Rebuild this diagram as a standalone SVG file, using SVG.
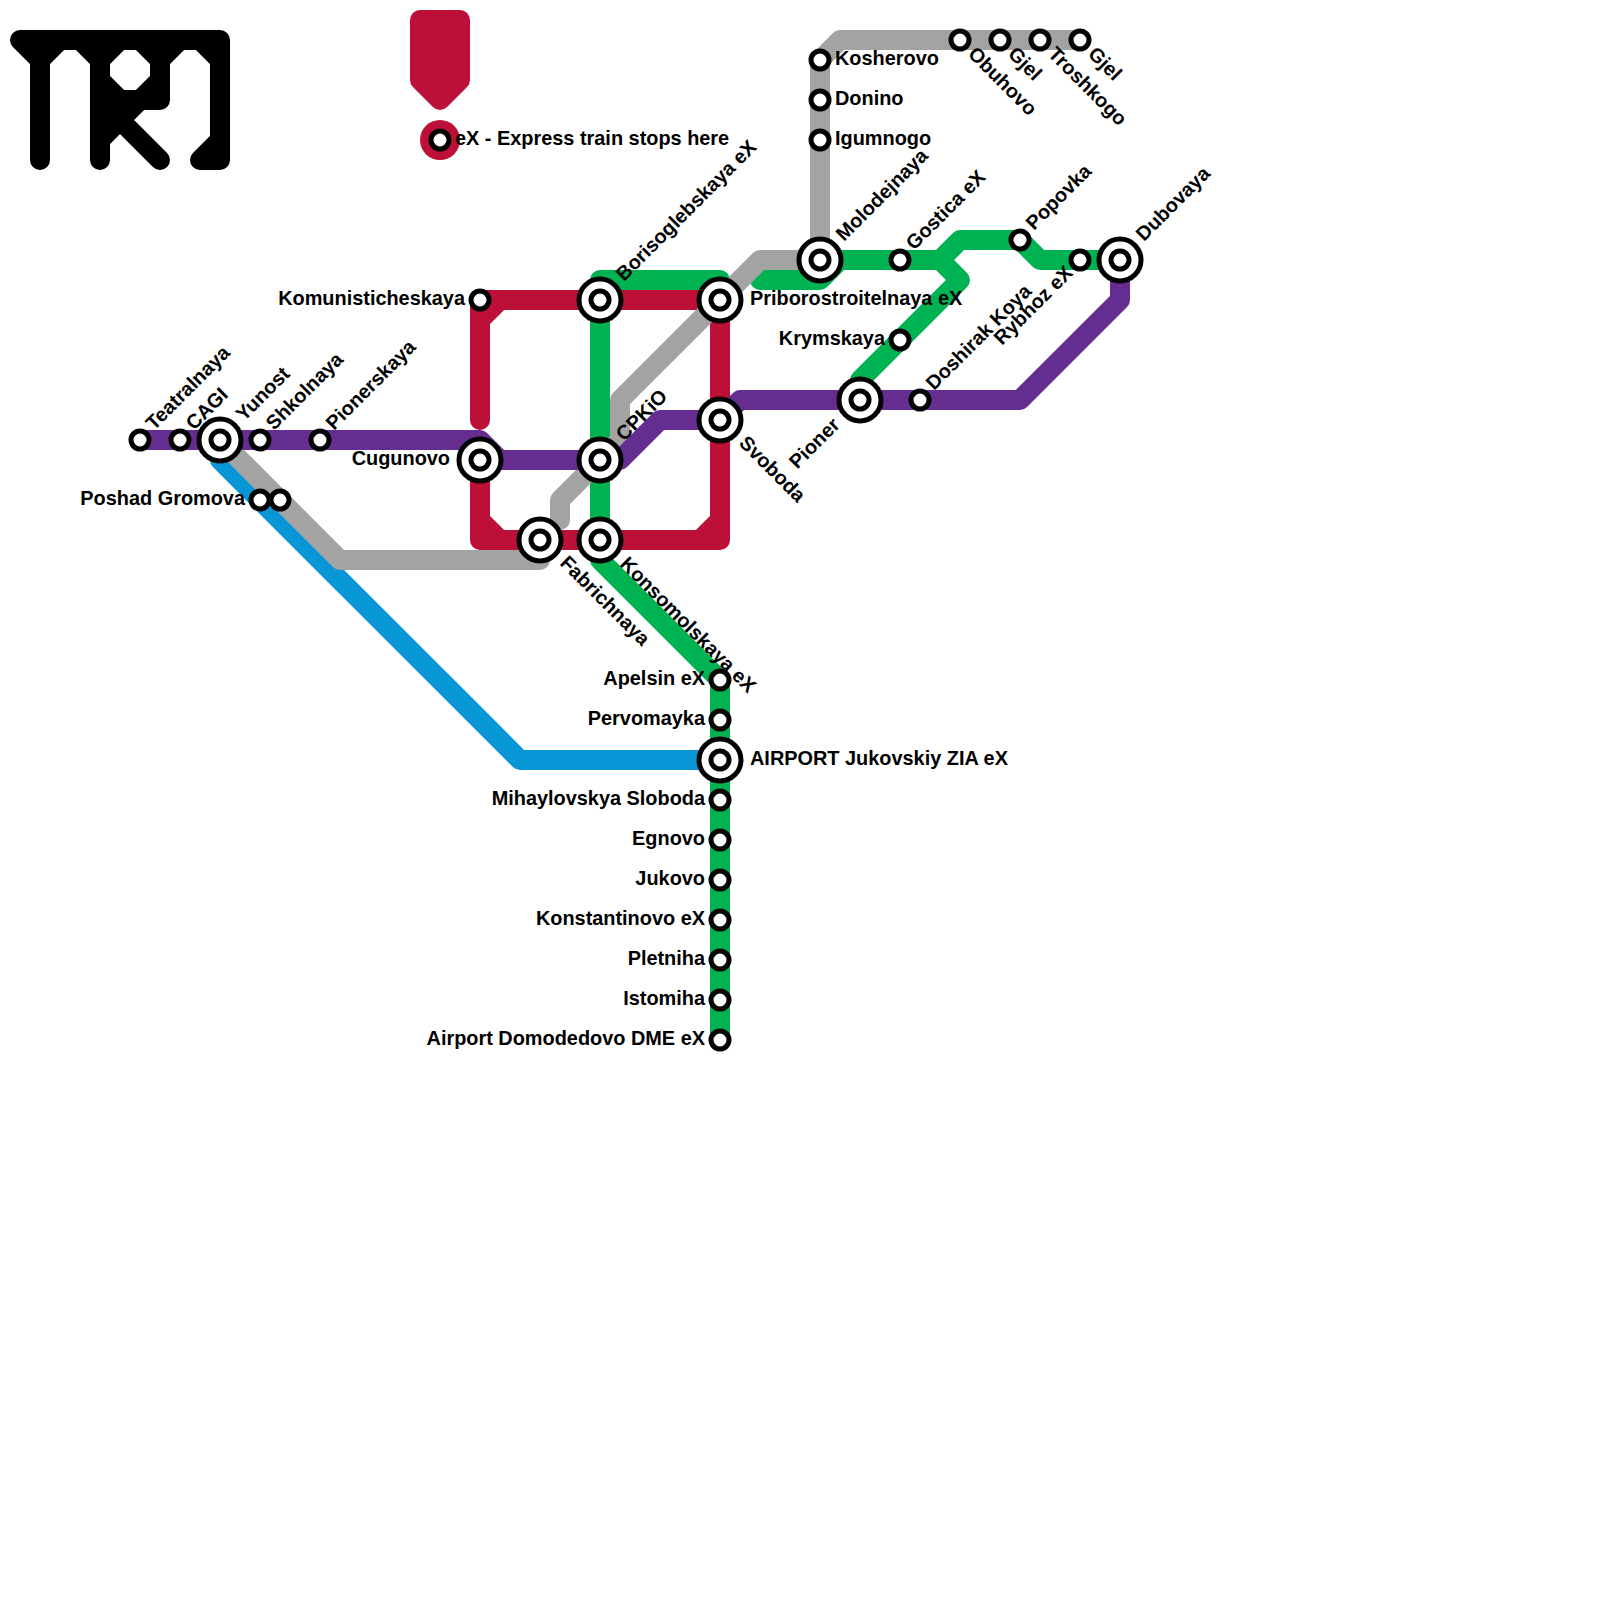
<svg xmlns="http://www.w3.org/2000/svg" width="1600" height="1600" viewBox="0 0 1600 1600">
<style>
.l{fill:none;stroke-width:20;stroke-linecap:round;stroke-linejoin:round}
.red{stroke:#BD1038}.grn{stroke:#00B251}.pur{stroke:#662D91}.gry{stroke:#A3A3A3}.blu{stroke:#0896D7}.blk{stroke:#000}
.s{fill:#fff;stroke:#000;stroke-width:5}
text{font-family:"Liberation Sans",Arial,sans-serif;font-weight:700;font-size:19.9px;fill:#000}
.e{text-anchor:end}
</style>
<defs>
<g id="sm"><circle class="s" r="9"/></g>
<g id="bg"><circle class="s" r="21"/><circle class="s" r="9"/></g>
</defs>
<rect width="1600" height="1600" fill="#fff"/>
<g id="logo" class="l blk">
<path d="M40 60L20 40H220V160H200L220 140M40 160V60L60 40M100 160V60L80 40M100 60L120 40M140 40L160 60V100H100M100 80L120 100M160 80L140 100M100 140L140 100M100 100L160 160M160 60L180 40M200 40L220 60"/>
</g>
<g id="legend">
<path d="M420 20H460V80L440 100L420 80Z" fill="#BD1038" stroke="#BD1038" stroke-width="20" stroke-linejoin="round"/>
<circle cx="440" cy="140" r="20" fill="#BD1038"/>
<use href="#sm" x="440" y="140"/>
<text x="455" y="145">eX - Express train stops here</text>
</g>
<g id="connectors">
<path class="l blu" d="M220 460L520 760H720"/>
<path class="l red" d="M480 420V300H720V540H480V460M480 320L500 300M480 520L500 540M700 540L720 520"/>
<path class="l grn" d="M600 540V280H720V300M600 540V560L720 680V1040M760 280H820L840 260H940L960 240H1020L1040 260H1120M940 260L960 280L860 380V400"/>
<path class="l gry" d="M220 440L340 560H540V540M560 520V500L620 440V400L760 260H820V60L840 40H1080"/>
<path class="l pur" d="M140 440H480L500 460H620L660 420H720L740 400H1020L1120 300V260"/>
</g>
<g id="n-teatralnaya"><use href="#sm" x="140" y="440"/><text transform="translate(154 431) rotate(-45)">Teatralnaya</text></g>
<g id="n-cagi"><use href="#sm" x="180" y="440"/><text transform="translate(194 431) rotate(-45)">CAGI</text></g>
<g id="n-yunost"><use href="#bg" x="220" y="440"/><text transform="translate(244 422) rotate(-45)">Yunost</text></g>
<g id="n-shkolnaya"><use href="#sm" x="260" y="440"/><text transform="translate(274 431) rotate(-45)">Shkolnaya</text></g>
<g id="n-pionerskaya"><use href="#sm" x="320" y="440"/><text transform="translate(334 431) rotate(-45)">Pionerskaya</text></g>
<g id="n-poshad"><use href="#sm" x="260" y="500"/><use href="#sm" x="280" y="500"/><text class="e" x="245" y="505">Poshad Gromova</text></g>
<g id="n-cugunovo"><use href="#bg" x="480" y="460"/><text class="e" x="450" y="465">Cugunovo</text></g>
<g id="n-komunisticheskaya"><use href="#sm" x="480" y="300"/><text class="e" x="465" y="305">Komunisticheskaya</text></g>
<g id="n-borisoglebskaya"><use href="#bg" x="600" y="300"/><text transform="translate(624 282) rotate(-45)">Borisoglebskaya eX</text></g>
<g id="n-priborostroitelnaya"><use href="#bg" x="720" y="300"/><text x="750" y="305">Priborostroitelnaya eX</text></g>
<g id="n-cpkio"><use href="#bg" x="600" y="460"/><text transform="translate(624 442) rotate(-45)">CPKiO</text></g>
<g id="n-svoboda"><use href="#bg" x="720" y="420"/><text transform="translate(738 444) rotate(45)">Svoboda</text></g>
<g id="n-fabrichnaya"><use href="#bg" x="540" y="540"/><text transform="translate(559 564) rotate(45)">Fabrichnaya</text></g>
<g id="n-konsomolskaya"><use href="#bg" x="600" y="540"/><text transform="translate(619 565) rotate(45)">Konsomolskaya eX</text></g>
<g id="n-molodejnaya"><use href="#bg" x="820" y="260"/><text transform="translate(844 242) rotate(-45)">Molodejnaya</text></g>
<g id="n-gostica"><use href="#sm" x="900" y="260"/><text transform="translate(914 251) rotate(-45)">Gostica eX</text></g>
<g id="n-popovka"><use href="#sm" x="1020" y="240"/><text transform="translate(1034 231) rotate(-45)">Popovka</text></g>
<g id="n-rybhoz"><use href="#sm" x="1080" y="260"/><text class="e" transform="translate(1074 274) rotate(-45)">Rybhoz eX</text></g>
<g id="n-dubovaya"><use href="#bg" x="1120" y="260"/><text transform="translate(1144 242) rotate(-45)">Dubovaya</text></g>
<g id="n-krymskaya"><use href="#sm" x="900" y="340"/><text class="e" x="885" y="345">Krymskaya</text></g>
<g id="n-pioner"><use href="#bg" x="860" y="400"/><text class="e" transform="translate(841 426) rotate(-45)">Pioner</text></g>
<g id="n-doshirak"><use href="#sm" x="920" y="400"/><text transform="translate(934 391) rotate(-45)">Doshirak Koya</text></g>
<g id="n-kosherovo"><use href="#sm" x="820" y="60"/><text x="835" y="65">Kosherovo</text></g>
<g id="n-donino"><use href="#sm" x="820" y="100"/><text x="835" y="105">Donino</text></g>
<g id="n-igumnogo"><use href="#sm" x="820" y="140"/><text x="835" y="145">Igumnogo</text></g>
<g id="n-obuhovo"><use href="#sm" x="960" y="40"/><text transform="translate(967 55) rotate(45)">Obuhovo</text></g>
<g id="n-gjel1"><use href="#sm" x="1000" y="40"/><text transform="translate(1007 55) rotate(45)">Gjel</text></g>
<g id="n-troshkogo"><use href="#sm" x="1040" y="40"/><text transform="translate(1047 55) rotate(45)">Troshkogo</text></g>
<g id="n-gjel2"><use href="#sm" x="1080" y="40"/><text transform="translate(1087 55) rotate(45)">Gjel</text></g>
<g id="n-apelsin"><use href="#sm" x="720" y="680"/><text class="e" x="705" y="685">Apelsin eX</text></g>
<g id="n-pervomayka"><use href="#sm" x="720" y="720"/><text class="e" x="705" y="725">Pervomayka</text></g>
<g id="n-airport-zia"><use href="#bg" x="720" y="760"/><text x="750" y="765">AIRPORT Jukovskiy ZIA eX</text></g>
<g id="n-mihaylovskya"><use href="#sm" x="720" y="800"/><text class="e" x="705" y="805">Mihaylovskya Sloboda</text></g>
<g id="n-egnovo"><use href="#sm" x="720" y="840"/><text class="e" x="705" y="845">Egnovo</text></g>
<g id="n-jukovo"><use href="#sm" x="720" y="880"/><text class="e" x="705" y="885">Jukovo</text></g>
<g id="n-konstantinovo"><use href="#sm" x="720" y="920"/><text class="e" x="705" y="925">Konstantinovo eX</text></g>
<g id="n-pletniha"><use href="#sm" x="720" y="960"/><text class="e" x="705" y="965">Pletniha</text></g>
<g id="n-istomiha"><use href="#sm" x="720" y="1000"/><text class="e" x="705" y="1005">Istomiha</text></g>
<g id="n-dme"><use href="#sm" x="720" y="1040"/><text class="e" x="705" y="1045">Airport Domodedovo DME eX</text></g>
</svg>
